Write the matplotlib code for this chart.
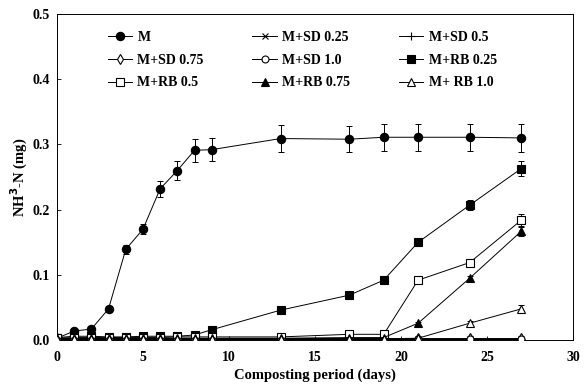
import numpy as np
import matplotlib
matplotlib.use("Agg")
import matplotlib.pyplot as plt

plt.rcParams['font.family'] = ['Liberation Serif', 'DejaVu Serif']
plt.rcParams['font.weight'] = 'bold'

days = [0, 1, 2, 3, 4, 5, 6, 7, 8, 9, 13, 17, 19, 21, 24, 27]

m_vals = [0.003, 0.014, 0.017, 0.048, 0.139, 0.170, 0.232, 0.260, 0.291, 0.292,
          0.309, 0.308, 0.311, 0.311, 0.311, 0.310]
m_err = [0.002, 0.003, 0.003, 0.004, 0.007, 0.008, 0.012, 0.015, 0.018, 0.018,
         0.021, 0.020, 0.021, 0.021, 0.021, 0.021]

sd025 = [0.002] * 16
sd05 = [0.002] * 16
sd075 = [0.003] * 16
sd10 = [0.002] * 16

rb025 = [0.004, 0.006, 0.006, 0.005, 0.005, 0.006, 0.006, 0.006, 0.008, 0.016,
         0.046, 0.069, 0.092, 0.150, 0.207, 0.263]
rb025_err = [0.001] * 9 + [0.003, 0.003, 0.003, 0.003, 0.005, 0.008, 0.012]
rb05 = [0.003, 0.004, 0.004, 0.004, 0.004, 0.004, 0.004, 0.005, 0.005, 0.005,
        0.005, 0.009, 0.009, 0.092, 0.119, 0.184]
rb05_err = [0.001] * 13 + [0.004, 0.004, 0.010]
rb075 = [0.003, 0.003, 0.003, 0.003, 0.003, 0.003, 0.003, 0.003, 0.003, 0.003,
         0.003, 0.004, 0.004, 0.026, 0.095, 0.167]
rb075_err = [0.001] * 13 + [0.002, 0.004, 0.008]
rb10 = [0.002, 0.002, 0.002, 0.002, 0.002, 0.002, 0.002, 0.002, 0.002, 0.002,
        0.002, 0.002, 0.002, 0.003, 0.026, 0.048]
rb10_err = [0.001] * 14 + [0.003, 0.006]

series = [
    ("M", m_vals, m_err, dict(marker='o', mfc='black', ms=6)),
    ("M+SD 0.25", sd025, None, dict(marker='x', mfc='none', ms=5)),
    ("M+SD 0.5", sd05, None, dict(marker='+', mfc='none', ms=6)),
    ("M+SD 0.75", sd075, None, dict(marker='d', mfc='white', ms=5)),
    ("M+SD 1.0", sd10, None, dict(marker='o', mfc='white', ms=5)),
    ("M+RB 0.25", rb025, rb025_err, dict(marker='s', mfc='black', ms=6)),
    ("M+RB 0.5", rb05, rb05_err, dict(marker='s', mfc='white', ms=6)),
    ("M+RB 0.75", rb075, rb075_err, dict(marker='^', mfc='black', ms=6)),
    ("M+ RB 1.0", rb10, rb10_err, dict(marker='^', mfc='white', ms=6)),
]

fig = plt.figure(figsize=(5.87, 3.87), dpi=100)
ax = fig.add_axes([0.097, 0.121, 0.879, 0.843])

handles = []
for name, vals, err, st in series:
    if err is not None:
        ax.errorbar(days, vals, yerr=err, fmt='none', ecolor='black',
                    elinewidth=0.7, capsize=2.5, capthick=0.7, zorder=2)
    h, = ax.plot(days, vals, color='black', lw=0.7, mec='black', mew=0.8,
                 label=name, zorder=3, **st)
    handles.append(h)

ax.set_xlim(0, 30)
ax.set_ylim(0, 0.5)
ax.set_xticks([0, 5, 10, 15, 20, 25, 30])
ax.set_yticks([0.0, 0.1, 0.2, 0.3, 0.4, 0.5])
ax.set_yticklabels(['0.0', '0.1', '0.2', '0.3', '0.4', '0.5'])
ax.tick_params(axis='both', direction='in', length=3, width=0.6, labelsize=10, pad=5)
ax.tick_params(axis='x', pad=8)
for sp in ax.spines.values():
    sp.set_linewidth(0.7)

ax.set_xlabel("Composting period (days)", fontsize=10.5, fontweight='bold', labelpad=3)
ax.set_ylabel("NH$^\\mathbf{3}$-N (mg)", fontsize=10.5, fontweight='bold', labelpad=2)

# legend is laid out row by row in the original
order = [0, 3, 6, 1, 4, 7, 2, 5, 8]
ax.legend(handles=[handles[i] for i in order], ncol=3, frameon=False,
          loc='upper left', bbox_to_anchor=(0.074, 0.986), handlelength=1.75,
          handletextpad=0.4, columnspacing=3.5, labelspacing=0.7,
          prop={'weight': 'bold', 'size': 10})

fig.savefig("out.png", dpi=100)
